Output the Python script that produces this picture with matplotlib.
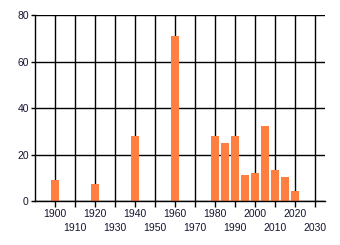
import matplotlib.pyplot as plt

# values
years = [1900, 1920, 1940, 1960, 1980, 1985, 1990, 1995, 2000, 2005, 2010, 2015, 2020]
counts = [9, 7.5, 28, 71, 28, 25, 28, 11.3, 12, 32.3, 13.3, 10.3, 4.3]

upper_ticks = [1900, 1920, 1940, 1960, 1980, 2000, 2020]
lower_ticks = [1910, 1930, 1950, 1970, 1990, 2010, 2030]
y_ticks = [0, 20, 40, 60, 80]

BAR_COLOR = "#FF7F40"
TEXT_COLOR = "#141432"

plt.rcParams["font.family"] = ["Liberation Sans", "DejaVu Sans"]
plt.rcParams["font.size"] = 7.5

fig = plt.figure(figsize=(3.4, 2.45), dpi=100)
ax = fig.add_axes([35 / 340, 44 / 245, 290 / 340, 186 / 245])

ax.bar(years, counts, width=4, color=BAR_COLOR, zorder=3)

ax.set_xlim(1890, 2035)
ax.set_ylim(0, 80)

ax.set_xticks(upper_ticks)
ax.set_xticks(lower_ticks, minor=True)
ax.set_xticklabels([str(t) for t in upper_ticks])
ax.set_xticklabels([str(t) for t in lower_ticks], minor=True)
ax.set_yticks(y_ticks)

ax.tick_params(axis="x", which="major", length=4, width=1, color="black",
               pad=1.5, labelcolor=TEXT_COLOR)
ax.tick_params(axis="x", which="minor", length=4, width=1, color="black",
               pad=12, labelcolor=TEXT_COLOR, labelsize=7.5)
ax.tick_params(axis="y", length=3, width=1, color="black", pad=1.5,
               labelcolor=TEXT_COLOR)

ax.grid(True, which="both", axis="x", color="black", linewidth=1, zorder=1)
ax.grid(True, which="major", axis="y", color="black", linewidth=1, zorder=1)
ax.set_axisbelow(True)

for side in ["top", "right"]:
    ax.spines[side].set_visible(False)
for side in ["left", "bottom"]:
    ax.spines[side].set_color("black")
    ax.spines[side].set_linewidth(1)
    ax.spines[side].set_zorder(4)

fig.savefig("out.png", dpi=100)
